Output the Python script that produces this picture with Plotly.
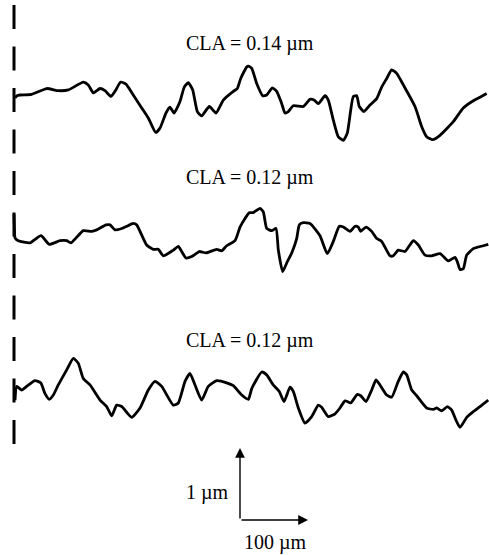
import plotly.graph_objects as go

# ---- data: three surface profiles (x in µm along the surface, z in µm height) ----
labels = ["CLA = 0.14 µm", "CLA = 0.12 µm", "CLA = 0.12 µm"]

x1 = [1.5, 4.4, 8.8, 26.0, 48.1, 65.1, 79.9, 101.9, 109.3, 116.6, 126.5, 133.8, 142.6, 148.5,
      156.9, 164.7, 175.4, 187.8, 197.5, 208.4, 214.7, 223.5, 229.4, 235.3, 244.1, 250.4, 256.3,
      262.8, 269.6, 276.0, 287.2, 297.1, 307.8, 322.5, 328.4, 333.4, 342.2, 344.6, 349.6, 356.9,
      365.7, 371.6, 379.9, 386.3, 393.7, 398.5, 403.4, 410.7, 425.4, 435.3, 441.2, 447.5, 457.4,
      462.2, 469.6, 476.9, 484.3, 490.1, 499.0, 504.0, 507.8, 514.7, 523.5, 533.4, 540.7, 548.1,
      555.4, 562.8, 572.5, 589.7, 599.6, 606.9, 615.7, 626.5, 646.0, 660.7, 675.4, 685.3, 695.1]
z1 = [-0.04, -0.01, 0.00, 0.01, 0.09, 0.06, 0.07, 0.18, 0.14, 0.03, 0.09, 0.06, -0.02, 0.05,
      0.18, 0.15, 0.00, -0.18, -0.32, -0.52, -0.46, -0.25, -0.17, -0.25, -0.09, 0.11, 0.17,
      0.07, -0.23, -0.29, -0.16, -0.25, -0.07, 0.05, 0.09, 0.23, 0.39, 0.40, 0.37, 0.16,
      -0.01, 0.00, 0.10, 0.05, -0.12, -0.25, -0.23, -0.15, -0.16, -0.06, -0.07, -0.12, -0.01,
      -0.07, -0.35, -0.58, -0.63, -0.53, -0.02, -0.01, -0.16, -0.23, -0.14, -0.05, 0.11, 0.23,
      0.35, 0.30, 0.14, -0.16, -0.44, -0.58, -0.62, -0.56, -0.37, -0.18, -0.08, -0.03, 0.02]

x2 = [0.0, 0.7, 1.5, 6.3, 23.5, 39.7, 51.9, 67.6, 77.5, 83.8, 101.9, 114.3, 121.6, 135.3, 141.2,
      148.5, 158.4, 165.7, 175.4, 180.4, 195.1, 204.9, 212.2, 219.6, 234.3, 241.6, 246.6, 252.9,
      261.3, 272.5, 282.4, 298.1, 305.4, 312.8, 325.0, 332.4, 339.7, 346.0, 351.9, 361.8, 366.6,
      371.6, 379.0, 385.3, 388.7, 395.1, 401.0, 408.4, 415.7, 419.6, 425.4, 435.3, 450.0, 460.7,
      469.6, 478.4, 484.3, 494.1, 501.5, 506.3, 509.9, 517.6, 526.0, 533.4, 540.7, 552.9, 557.8,
      565.1, 575.0, 587.2, 594.6, 604.4, 614.3, 626.5, 638.7, 648.5, 651.9, 655.9, 660.7, 665.7,
      675.4, 690.1, 697.5]
z2 = [0.36, 0.14, 0.03, -0.01, -0.04, 0.06, -0.06, -0.01, -0.01, -0.04, 0.13, 0.12, 0.14, 0.21, 0.21,
      0.14, 0.16, 0.19, 0.23, 0.21, -0.07, -0.13, -0.13, -0.22, -0.14, -0.09, -0.16, -0.25,
      -0.23, -0.16, -0.18, -0.13, -0.15, -0.08, -0.01, 0.18, 0.30, 0.38, 0.38, 0.44, 0.39,
      0.16, 0.13, 0.16, -0.14, -0.44, -0.32, -0.18, 0.02, 0.21, 0.24, 0.23, 0.06, -0.19,
      -0.02, 0.19, 0.18, 0.12, 0.19, 0.18, 0.12, 0.18, 0.12, 0.02, -0.02, -0.22, -0.22,
      -0.14, -0.16, -0.01, -0.07, -0.21, -0.22, -0.19, -0.29, -0.24, -0.30, -0.41, -0.40, -0.21,
      -0.12, -0.08, -0.06]

x3 = [1.5, 4.0, 11.3, 18.7, 30.9, 39.3, 45.6, 51.9, 57.8, 65.1, 77.5, 87.2, 94.6, 101.9, 111.8,
      126.5, 136.3, 143.7, 151.0, 158.4, 173.1, 185.3, 197.5, 207.4, 217.2, 234.3, 241.6, 251.5,
      258.8, 266.2, 276.0, 285.7, 298.1, 312.8, 322.5, 334.9, 344.6, 349.6, 364.3, 371.6, 381.3,
      390.1, 397.1, 405.9, 410.7, 418.1, 427.9, 437.8, 447.5, 452.5, 462.2, 472.1, 479.4, 486.8,
      495.1, 504.9, 509.9, 517.6, 526.0, 532.4, 538.2, 548.1, 555.4, 565.1, 572.5, 577.5, 584.9,
      592.2, 606.9, 616.6, 621.6, 629.0, 637.2, 643.7, 650.0, 655.9, 665.7, 675.4, 685.3, 697.5]
z3 = [-0.14, 0.05, 0.00, 0.05, 0.13, 0.10, -0.05, -0.13, -0.07, 0.07, 0.28, 0.44, 0.37, 0.16, 0.07,
      -0.14, -0.23, -0.36, -0.21, -0.23, -0.38, -0.25, 0.00, 0.12, 0.05, -0.21, -0.18, 0.12,
      0.23, 0.07, -0.14, 0.05, 0.13, 0.10, 0.06, -0.07, -0.13, 0.02, 0.25, 0.21, 0.07,
      -0.02, -0.16, 0.04, -0.02, -0.25, -0.46, -0.37, -0.21, -0.24, -0.37, -0.33, -0.25, -0.15,
      -0.18, -0.06, -0.08, -0.16, 0.00, 0.14, 0.07, -0.07, -0.10, 0.12, 0.25, 0.21, 0.00,
      -0.08, -0.25, -0.27, -0.25, -0.29, -0.23, -0.28, -0.42, -0.52, -0.38, -0.30, -0.23, -0.14]

scale_x_um = 100   # horizontal scale bar
scale_z_um = 1     # vertical scale bar

# ---- layout geometry (px -> data) ----
W, H = 489, 555
px_per_um_x = 0.68
px_per_um_z = 72.0
x0_px = 14.0
xr = [-x0_px / px_per_um_x, (W - x0_px) / px_per_um_x]
yr = [0, H / px_per_um_z]

def X(px):
    return (px - x0_px) / px_per_um_x

def Y(py):
    return (H - py) / px_per_um_z

offsets = [Y(95), Y(240), Y(390)]
label_y = [Y(43), Y(177), Y(340)]

fig = go.Figure()

# dashed reference line
fig.add_trace(go.Scatter(x=[0, 0], y=[Y(5), Y(444)], mode="lines",
                         line=dict(color="black", width=3, dash="24px,17.5px"),
                         hoverinfo="skip", showlegend=False))

for xs, zs, off in zip([x1, x2, x3], [z1, z2, z3], offsets):
    fig.add_trace(go.Scatter(x=xs, y=[z + off for z in zs], mode="lines",
                             line=dict(color="black", width=2.8, shape="spline", smoothing=0.5),
                             hoverinfo="skip", showlegend=False))

font = dict(family="Liberation Serif, Times New Roman, serif", size=20, color="black")
ann = []
for lab, ly in zip(labels, label_y):
    ann.append(dict(x=X(250), y=ly, text=lab, showarrow=False, xref="x", yref="y",
                    font=font, xanchor="center", yanchor="middle"))

# scale bar
cx, cy = X(240), Y(520)
ann.append(dict(x=cx, y=cy + scale_z_um, ax=cx, ay=cy, xref="x", yref="y", axref="x", ayref="y",
                showarrow=True, arrowhead=2, arrowsize=1.4, arrowwidth=1.4, arrowcolor="black",
                text="", standoff=0, startstandoff=0))
ann.append(dict(x=cx + scale_x_um, y=cy, ax=cx, ay=cy, xref="x", yref="y", axref="x", ayref="y",
                showarrow=True, arrowhead=2, arrowsize=1.4, arrowwidth=1.4, arrowcolor="black",
                text="", standoff=0, startstandoff=0))
ann.append(dict(x=X(231), y=Y(492), text=f"{scale_z_um} µm", showarrow=False, xref="x", yref="y",
                font=font, xanchor="right", yanchor="middle"))
ann.append(dict(x=X(275), y=Y(542), text=f"{scale_x_um} µm", showarrow=False, xref="x", yref="y",
                font=font, xanchor="center", yanchor="middle"))

fig.update_layout(
    width=W, height=H, autosize=False,
    margin=dict(l=0, r=0, t=0, b=0),
    paper_bgcolor="white", plot_bgcolor="white",
    xaxis=dict(range=xr, visible=False, fixedrange=True),
    yaxis=dict(range=yr, visible=False, fixedrange=True),
    annotations=ann, showlegend=False,
)

fig.write_html("out.html", config={"displayModeBar": False})
